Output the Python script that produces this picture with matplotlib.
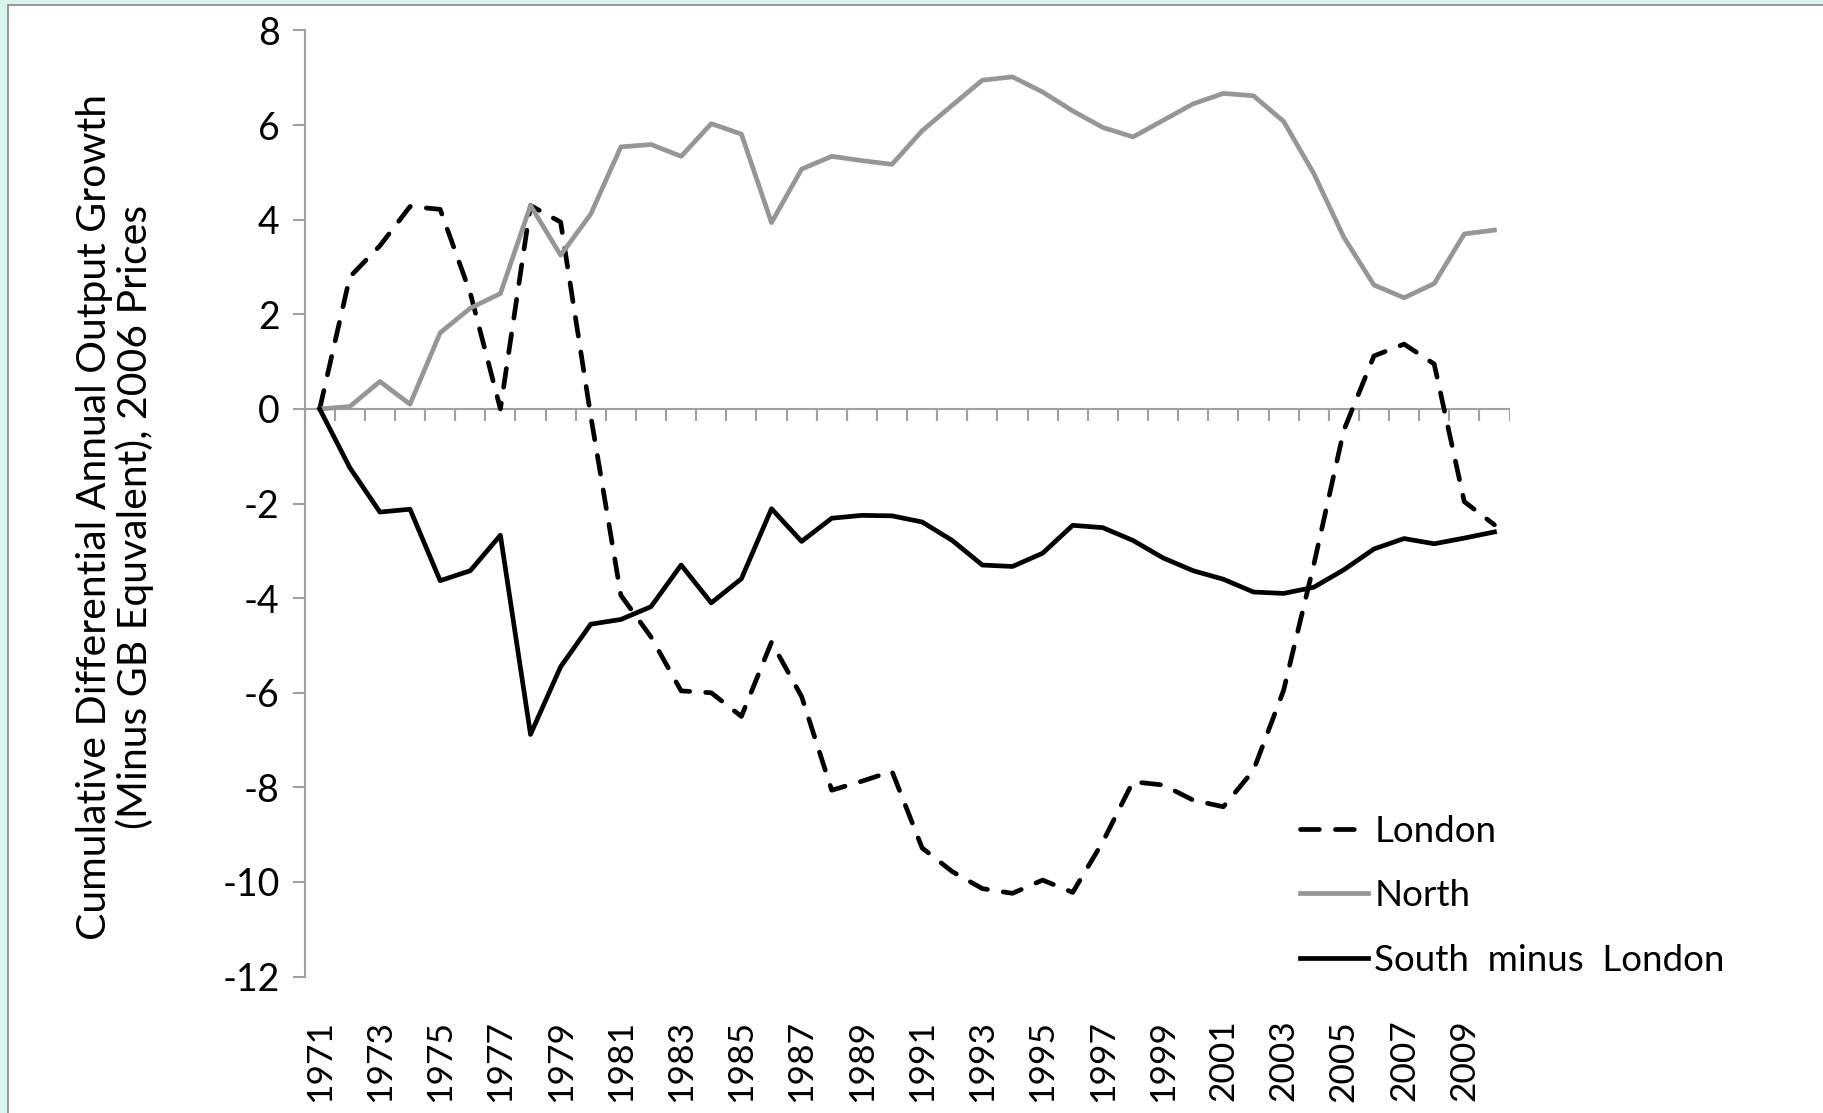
import numpy as np
import matplotlib
matplotlib.use("Agg")
import matplotlib.pyplot as plt
from matplotlib.patches import Rectangle

plt.rcParams['font.family'] = ['Lato', 'DejaVu Sans']

years = list(range(1971, 2011))
london = [0.0, 2.79, 3.45, 4.28, 4.22, 2.45, 0.0, 4.30, 3.95, -0.15,
          -3.94, -4.82, -5.96, -6.00, -6.50, -4.93, -6.08, -8.06, -7.87, -7.66,
          -9.28, -9.78, -10.14, -10.24, -9.96, -10.22, -9.15, -7.88, -7.95, -8.27,
          -8.41, -7.64, -5.95, -3.30, -0.45, 1.12, 1.37, 0.95, -1.96, -2.45]
north = [0.0, 0.05, 0.58, 0.10, 1.61, 2.13, 2.44, 4.30, 3.25, 4.12,
         5.54, 5.59, 5.34, 6.03, 5.81, 3.94, 5.07, 5.34, 5.25, 5.17,
         5.88, 6.42, 6.95, 7.02, 6.70, 6.30, 5.95, 5.75, 6.10, 6.45,
         6.67, 6.62, 6.08, 4.98, 3.63, 2.62, 2.35, 2.65, 3.70, 3.78]
south_minus_london = [0.0, -1.24, -2.18, -2.12, -3.63, -3.42, -2.67, -6.88, -5.45, -4.55,
                      -4.45, -4.18, -3.30, -4.10, -3.59, -2.11, -2.80, -2.31, -2.25, -2.26,
                      -2.39, -2.78, -3.30, -3.33, -3.05, -2.46, -2.51, -2.78, -3.15, -3.42,
                      -3.60, -3.87, -3.90, -3.77, -3.40, -2.96, -2.74, -2.85, -2.73, -2.60]
y_ticks = list(range(-12, 9, 2))
ylabel = "Cumulative Differential Annual Output Growth\n(Minus GB Equvalent), 2006 Prices"

W, H = 1823, 1113
axis_grey = "#a0a0a0"
fig = plt.figure(figsize=(W / 100, H / 100), dpi=100)
fig.patch.set_facecolor("#dcf4f0")
# white chart area with grey frame, teal strip left and top
fig.patches.append(Rectangle((8 / W, -0.01), 1.02, 1.01 - 5 / H, transform=fig.transFigure,
                             facecolor="white", edgecolor="#9a9a9a", linewidth=1.5, zorder=-10))

ax = fig.add_axes([304.6 / W, 1 - 976.6 / H, (1509.5 - 304.6) / W, (976.6 - 30.5) / H])
ax.set_facecolor("none")
x = np.arange(len(years))

lw = 3.4
ax.plot(x, london, color="black", lw=lw, dashes=(4.0, 3.4), dash_capstyle="round", label="London")
ax.plot(x, north, color="#969696", lw=lw, label="North")
ax.plot(x, south_minus_london, color="black", lw=lw, label="South  minus  London")

ax.set_xlim(-0.5, len(years) - 0.5)
ax.set_ylim(-12, 8)

for s in ["top", "right", "bottom"]:
    ax.spines[s].set_visible(False)
ax.spines["left"].set_color(axis_grey)
ax.spines["left"].set_linewidth(1.5)

# zero axis with category boundary ticks
ax.axhline(0, color=axis_grey, lw=1.5, zorder=1)
bounds = np.arange(len(years) + 1) - 0.5
ax.vlines(bounds, -0.26, 0, color=axis_grey, lw=1.5, zorder=1)

ax.set_yticks(y_ticks)
ax.set_yticklabels([str(v) for v in y_ticks])
ax.tick_params(axis="y", direction="out", length=9, width=1.5, color=axis_grey,
               labelsize=27, pad=9)

ax.set_xticks(x[::2])
ax.set_xticklabels([str(y) for y in years[::2]], rotation=90)
ax.tick_params(axis="x", length=0, labelsize=25.5, pad=31)

fig.text(115 / W, 1 - 517 / H, ylabel, rotation=90, ha="center", va="center",
         fontsize=29.5, linespacing=1.08, multialignment="center")

leg = fig.legend(loc="upper left", bbox_to_anchor=(1300 / W, 1 - 815 / H),
                 bbox_transform=fig.transFigure, frameon=False, fontsize=26.5,
                 handlelength=1.85, handletextpad=0.17, labelspacing=0.85, borderpad=0,
                 borderaxespad=0)

fig.savefig("out.png", dpi=100, facecolor=fig.get_facecolor())
